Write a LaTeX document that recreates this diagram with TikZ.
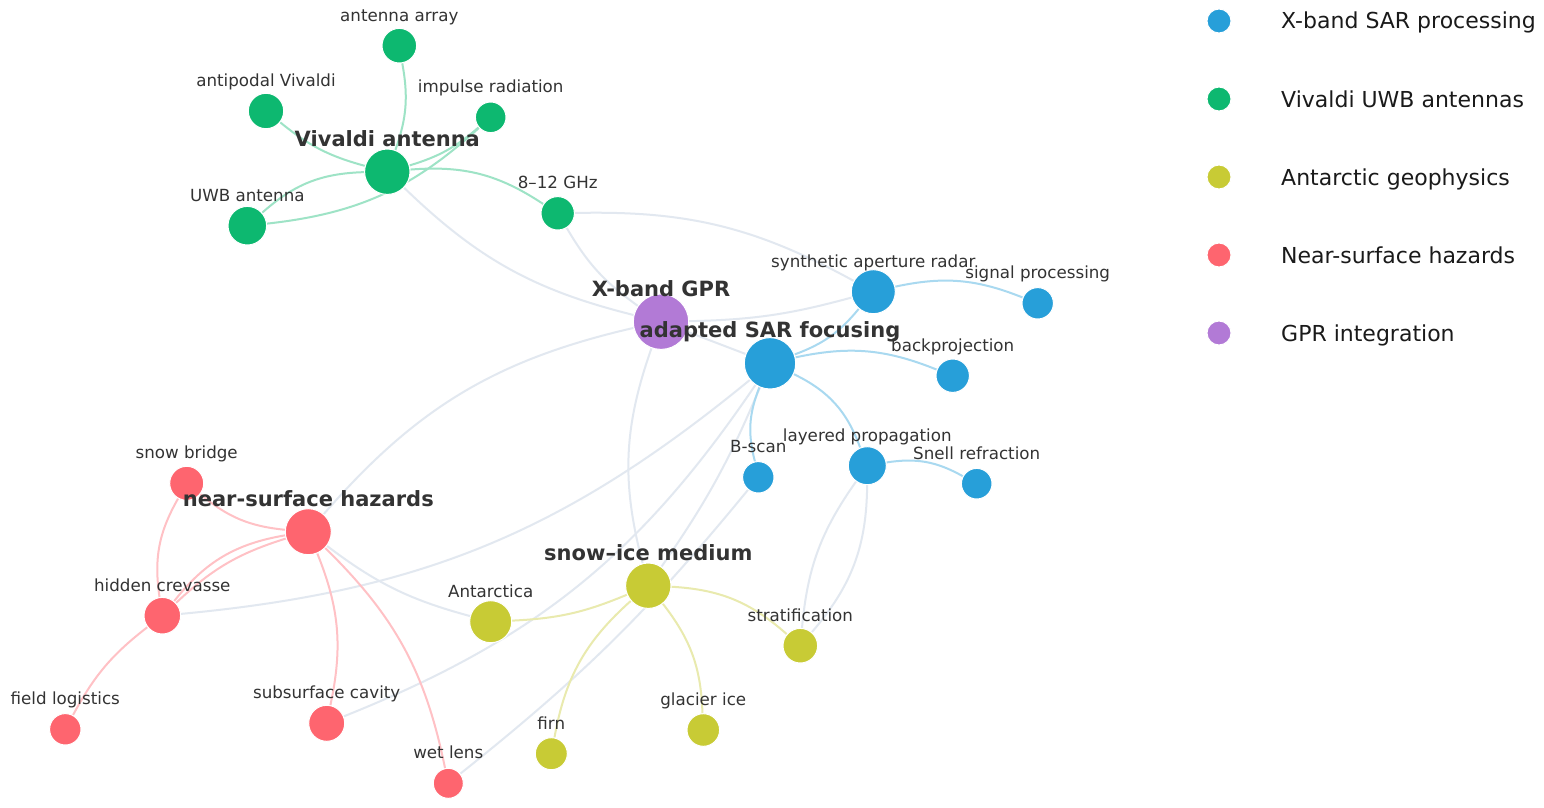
\documentclass[tikz,border=0pt]{standalone}
\usepackage{fontspec}
\setmainfont{DejaVu Sans}
\usetikzlibrary{backgrounds}
\definecolor{cblue}{HTML}{279FD9}
\definecolor{cgreen}{HTML}{0DB870}
\definecolor{cyellow}{HTML}{C8CB35}
\definecolor{cred}{HTML}{FE656F}
\definecolor{cpurple}{HTML}{B27AD6}
\definecolor{cgrey}{HTML}{E2E8F0}
\definecolor{ctext}{HTML}{333333}
\definecolor{clegend}{HTML}{1A1A1A}
\begin{document}
\begin{tikzpicture}[x=1pt,y=1pt,
  nd/.style={circle,draw=white,line width=1pt,inner sep=0pt,minimum size=#1},
  gn/.style={nd=#1,fill=cgreen},
  bn/.style={nd=#1,fill=cblue},
  rn/.style={nd=#1,fill=cred},
  yn/.style={nd=#1,fill=cyellow},
  pn/.style={nd=#1,fill=cpurple},
  lbl/.style={anchor=base,inner sep=0pt,text=ctext,font=\fontsize{16.7}{20}\selectfont},
  blbl/.style={anchor=base,inner sep=0pt,text=ctext,font=\bfseries\fontsize{21}{25}\selectfont},
  leg/.style={anchor=base west,inner sep=0pt,text=clegend,font=\fontsize{22}{26}\selectfont},
  ed/.style={line width=2pt},
  egreen/.style={ed,draw=cgreen!40!white},
  eblue/.style={ed,draw=cblue!40!white},
  ered/.style={ed,draw=cred!40!white},
  eyellow/.style={ed,draw=cyellow!40!white},
  egrey/.style={ed,draw=cgrey},
]
\useasboundingbox (0,0) rectangle (1544,-808);

% nodes: Vivaldi UWB antennas
\node[gn=45.4] (VA) at (387.3,-171.7) {};
\node[gn=34.6] (AA) at (399.3,-45.7) {};
\node[gn=35.4] (AV) at (266,-111) {};
\node[gn=30.6] (IR) at (490.7,-117.3) {};
\node[gn=38.6] (UWB) at (247.3,-225.7) {};
\node[gn=33.4] (GHz) at (557.7,-213.3) {};
% GPR integration
\node[pn=55.4] (GPR) at (661,-321.7) {};
% X-band SAR processing
\node[bn=44] (synth) at (873.3,-291.7) {};
\node[bn=51.4] (SAR) at (770,-363.3) {};
\node[bn=33.4] (bp) at (952.7,-375.7) {};
\node[bn=31.4] (sig) at (1037.7,-303.3) {};
\node[bn=31.4] (bscan) at (758.3,-477.3) {};
\node[bn=38] (lp) at (867.3,-465.7) {};
\node[bn=30.6] (snell) at (976.7,-483.7) {};
% Near-surface hazards
\node[rn=34] (sb) at (186.7,-483.3) {};
\node[rn=46] (NSH) at (308.3,-531.7) {};
\node[rn=36.6] (hc) at (162.3,-615.7) {};
\node[rn=31.4] (fl) at (65.3,-729.3) {};
\node[rn=36] (sc) at (326.7,-723.3) {};
\node[rn=30] (wl) at (448.3,-783.3) {};
% Antarctic geophysics
\node[yn=45.4] (SI) at (648.3,-585.7) {};
\node[yn=42] (ant) at (490.7,-621.7) {};
\node[yn=34.6] (strat) at (800.3,-645.7) {};
\node[yn=32.6] (gi) at (703.3,-730) {};
\node[yn=32] (firn) at (551.3,-753.7) {};

\begin{pgfonlayer}{background}
\fill[white] (0,0) rectangle (1544,-808);
% cross-group edges
\draw[egrey] (VA) to[bend right=15] (GPR);
\draw[egrey] (GHz) to[bend right=12] (GPR);
\draw[egrey] (GHz) to[bend left=15] (synth);
\draw[egrey] (GPR) to[bend right=7] (synth);
\draw[egrey] (GPR) to (SAR);
\draw[egrey] (GPR) to[bend right=17] (SI);
\draw[egrey] (NSH) to[bend left=18] (GPR);
\draw[egrey] (SAR) to[bend left=17] (hc);
\draw[egrey] (SAR) to[bend left=6] (SI);
\draw[egrey] (SAR) to[bend left=17] (sc);
\draw[egrey] (bscan) to[bend left=6] (wl);
\draw[egrey] (NSH) to[bend right=11] (ant);
\draw[egrey] (lp) to[bend right=15] (strat);
\draw[egrey] (lp) to[bend left=20] (strat);
% green
\draw[egreen] (AA) to[bend left=15] (VA);
\draw[egreen] (AV) to[bend right=12] (VA);
\draw[egreen] (UWB) to[bend left=20] (VA);
\draw[egreen] (UWB) to[bend right=18] (IR);
\draw[egreen] (VA) to[bend right=12] (IR);
\draw[egreen] (VA) to[bend left=19] (GHz);
% red
\draw[ered] (sb) to[bend right=17] (NSH);
\draw[ered] (sb) to[bend right=19] (hc);
\draw[ered] (NSH) to[bend right=21] (hc);
\draw[ered] (NSH) to[bend right=13] (hc);
\draw[ered] (hc) to[bend right=12] (fl);
\draw[ered] (NSH) to[bend left=17] (sc);
\draw[ered] (NSH) to[bend left=17] (wl);
% yellow
\draw[eyellow] (SI) to[bend left=10] (ant);
\draw[eyellow] (SI) to[bend right=19] (firn);
\draw[eyellow] (SI) to[bend left=18] (gi);
\draw[eyellow] (SI) to[bend left=19] (strat);
% blue
\draw[eblue] (SAR) to[bend right=15] (synth);
\draw[eblue] (synth) to[bend left=17] (sig);
\draw[eblue] (SAR) to[bend left=17] (bp);
\draw[eblue] (SAR) to[bend left=22] (lp);
\draw[eblue] (SAR) to[bend right=18] (bscan);
\draw[eblue] (lp) to[bend left=19] (snell);
\end{pgfonlayer}

% labels
\node[lbl] (AA-l) at ([yshift=24.5pt]AA.center) {antenna array};
\node[lbl] (AV-l) at ([yshift=24.5pt]AV.center) {antipodal Vivaldi};
\node[lbl] (IR-l) at ([yshift=24.5pt]IR.center) {impulse radiation};
\node[lbl] (UWB-l) at ([yshift=24.5pt]UWB.center) {UWB antenna};
\node[lbl] (GHz-l) at ([yshift=24.5pt]GHz.center) {8–12 GHz};
\node[lbl] (synth-l) at ([yshift=24.5pt]synth.center) {synthetic aperture radar};
\node[lbl] (sig-l) at ([yshift=24.5pt]sig.center) {signal processing};
\node[lbl] (bp-l) at ([yshift=24.5pt]bp.center) {backprojection};
\node[lbl] (bscan-l) at ([yshift=24.5pt]bscan.center) {B-scan};
\node[lbl] (lp-l) at ([yshift=24.5pt]lp.center) {layered propagation};
\node[lbl] (snell-l) at ([yshift=24.5pt]snell.center) {Snell refraction};
\node[lbl] (sb-l) at ([yshift=24.5pt]sb.center) {snow bridge};
\node[lbl] (hc-l) at ([yshift=24.5pt]hc.center) {hidden crevasse};
\node[lbl] (fl-l) at ([yshift=24.5pt]fl.center) {field logistics};
\node[lbl] (sc-l) at ([yshift=24.5pt]sc.center) {subsurface cavity};
\node[lbl] (wl-l) at ([yshift=24.5pt]wl.center) {wet lens};
\node[lbl] (ant-l) at ([yshift=24.5pt]ant.center) {Antarctica};
\node[lbl] (strat-l) at ([yshift=24.5pt]strat.center) {stratification};
\node[lbl] (gi-l) at ([yshift=24.5pt]gi.center) {glacier ice};
\node[lbl] (firn-l) at ([yshift=24.5pt]firn.center) {firn};
\node[blbl] (VA-l) at ([yshift=25.5pt]VA.center) {Vivaldi antenna};
\node[blbl] (GPR-l) at ([yshift=25.5pt]GPR.center) {X-band GPR};
\node[blbl] (SAR-l) at ([yshift=25.5pt]SAR.center) {adapted SAR focusing};
\node[blbl] (NSH-l) at ([yshift=25.5pt]NSH.center) {near-surface hazards};
\node[blbl] (SI-l) at ([yshift=25.5pt]SI.center) {snow–ice medium};

% legend
\node[nd=24,fill=cblue] (L1) at (1219,-21) {};
\node[leg] (L1t) at (1281,-29) {X-band SAR processing};
\node[nd=24,fill=cgreen] (L2) at (1219,-99) {};
\node[leg] (L2t) at (1281,-107) {Vivaldi UWB antennas};
\node[nd=24,fill=cyellow] (L3) at (1219,-177) {};
\node[leg] (L3t) at (1281,-185) {Antarctic geophysics};
\node[nd=24,fill=cred] (L4) at (1219,-255) {};
\node[leg] (L4t) at (1281,-263) {Near-surface hazards};
\node[nd=24,fill=cpurple] (L5) at (1219,-333) {};
\node[leg] (L5t) at (1281,-341) {GPR integration};
\end{tikzpicture}
\end{document}
